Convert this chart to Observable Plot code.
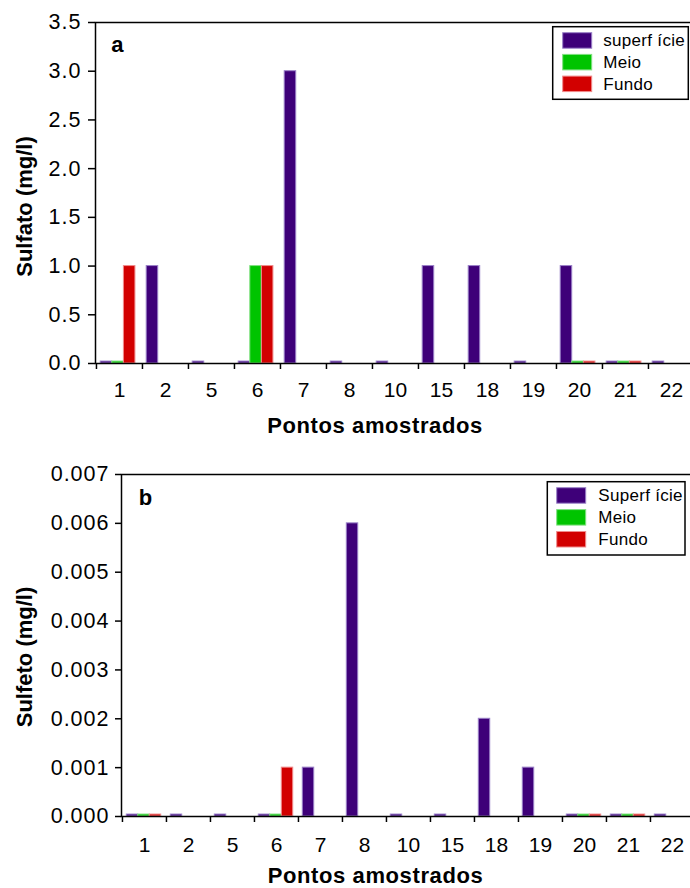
<!DOCTYPE html>
<html>
<head>
<meta charset="utf-8">
<script src="https://cdn.jsdelivr.net/npm/d3@7"></script>
<script src="https://cdn.jsdelivr.net/npm/@observablehq/plot@0.6"></script>
<style>
  html, body { margin: 0; padding: 0; background: white; overflow: hidden; }
  #wrap { position: relative; width: 690px; height: 888px; font-family: "Liberation Sans", Arial, sans-serif; }
  #wrap svg.plot { position: absolute; left: 0; }
  .legend { position: absolute; left: 0; top: 0; }
</style>
</head>
<body>
<div id="wrap"></div>
<script>
// ---------- DATA ----------
const cats = ["1","2","5","6","7","8","10","15","18","19","20","21","22"];
const seriesA = ["superf ície", "Meio", "Fundo"];
const seriesB = ["Superf ície", "Meio", "Fundo"];

// Sulfato (mg/l)  (null = no bar)
const sulfatoSuperficie = [0.02, 1, 0.02, 0.02, 3, 0.02, 0.02, 1, 1, 0.02, 1, 0.02, 0.02];
const sulfatoMeio       = [0.02, null, null, 1, null, null, null, null, null, null, 0.02, 0.02, null];
const sulfatoFundo      = [1, null, null, 1, null, null, null, null, null, null, 0.02, 0.02, null];

// Sulfeto (mg/l)
const sulfetoSuperficie = [0.00004, 0.00004, 0.00004, 0.00004, 0.001, 0.006, 0.00004, 0.00004, 0.002, 0.001, 0.00004, 0.00004, 0.00004];
const sulfetoMeio       = [0.00004, null, null, 0.00004, null, null, null, null, null, null, 0.00004, 0.00004, null];
const sulfetoFundo      = [0.00004, null, null, 0.001, null, null, null, null, null, null, 0.00004, 0.00004, null];

const ticksA = [0, 0.5, 1, 1.5, 2, 2.5, 3, 3.5];
const ticksB = [0, 0.001, 0.002, 0.003, 0.004, 0.005, 0.006, 0.007];

const fills   = ["#3e0079", "#00c400", "#d20000"];
const strokes = ["#9a80c8", "#80e080", "#f08c8c"];

const FONT = "'Liberation Sans', Arial, sans-serif";
const W = 690;

function rows(vals) {
  return cats.map((c, i) => ({cat: c, value: vals[i]})).filter(d => d.value != null);
}

function makeChart(cfg) {
  const {height, mt, mb, ml, mr, domain, ticks, fmt, data, yLabel, L, step, yLabelDx, yLabelDy, xLabelDx, tickSize, tickPad, xTickPad} = cfg;
  const bw = (W - ml - mr) / cats.length;
  const barMarks = data.map((vals, i) =>
    Plot.barY(rows(vals), {
      x: "cat", y: "value",
      fill: fills[i], stroke: strokes[i], strokeWidth: 1,
      insetLeft: L + i * step,
      insetRight: bw - L - (i + 1) * step
    })
  );
  const svg = Plot.plot({
    width: W, height,
    marginTop: mt, marginBottom: mb, marginLeft: ml, marginRight: mr,
    style: {fontFamily: FONT, fontSize: "21px", color: "black", overflow: "hidden", background: "white"},
    x: {type: "band", domain: cats, padding: 0, axis: null},
    y: {domain, axis: null},
    marks: [
      ...barMarks,
      Plot.axisY({ticks, tickFormat: fmt, tickSize, tickPadding: tickPad, fontSize: 21.5, strokeWidth: 1.5, label: null}),
      Plot.axisX({tickSize: 0, tickPadding: xTickPad, fontSize: 21, label: null}),
      Plot.axisX({tickSize: 6, tickFormat: () => "", dx: -bw / 2, strokeWidth: 1.5, label: null}),
      Plot.frame({stroke: "black", strokeWidth: 1.5}),
      Plot.text([yLabel], {frameAnchor: "left", rotate: -90, dx: yLabelDx, dy: yLabelDy,
        fontWeight: "bold", fontSize: 22, textAnchor: "middle"}),
      Plot.text(["Pontos amostrados"], {frameAnchor: "bottom", lineAnchor: "bottom", dx: xLabelDx, dy: cfg.xLabelDy,
        fontWeight: "bold", fontSize: 22, textAnchor: "middle"}),
      Plot.text([cfg.panel], {frameAnchor: "top-left", lineAnchor: "bottom", textAnchor: "start",
        dx: cfg.panelDx, dy: cfg.panelDy, fontWeight: "bold", fontSize: 22})
    ]
  });
  d3.select(svg).selectAll("[aria-label='y-axis tick label'] text").attr("letter-spacing", "1px");
  d3.select(svg).selectAll("[aria-label='text'] text").filter(function() { return this.textContent === "Pontos amostrados"; }).attr("letter-spacing", "0.6px");
  return svg;
}

const wrap = document.getElementById("wrap");

const svgA = makeChart({
  height: 445, mt: 22, mb: 82, ml: 95, mr: -4,
  domain: [0, 3.5], ticks: ticksA, fmt: d3.format(".1f"),
  data: [sulfatoSuperficie, sulfatoMeio, sulfatoFundo],
  yLabel: "Sulfato (mg/l)", L: 4.2, step: 11.6,
  yLabelDx: -70.5, yLabelDy: 13.5, xLabelDx: -20, xLabelDy: 69,
  tickSize: 7, tickPad: 7, xTickPad: 19,
  panel: "a", panelDx: 15.7, panelDy: 29.7
});
svgA.style.top = "0px";
wrap.appendChild(svgA);

const svgB = makeChart({
  height: 443, mt: 29, mb: 72, ml: 121, mr: -4,
  domain: [0, 0.007], ticks: ticksB, fmt: d3.format(".3f"),
  data: [sulfetoSuperficie, sulfetoMeio, sulfetoFundo],
  yLabel: "Sulfeto (mg/l)", L: 4.3, step: 11.5,
  yLabelDx: -96.5, yLabelDy: 11.5, xLabelDx: -32.5, xLabelDy: 66,
  tickSize: 6, tickPad: 6, xTickPad: 21,
  panel: "b", panelDx: 17.3, panelDy: 30
});
svgB.style.top = "445px";
wrap.appendChild(svgB);

// ---------- LEGENDS (inside the plot area, top-right) ----------
function legend(box, names) {
  const svg = d3.select(wrap).append("svg")
    .attr("class", "legend").attr("width", W).attr("height", 888)
    .style("pointer-events", "none");
  svg.append("rect")
    .attr("x", box.x).attr("y", box.y).attr("width", box.w).attr("height", box.h)
    .attr("fill", "white").attr("stroke", "black").attr("stroke-width", 1.5);
  names.forEach((n, i) => {
    const y = box.sy + i * box.gap;
    svg.append("rect").attr("x", box.sx).attr("y", y).attr("width", 29).attr("height", 15.5)
      .attr("fill", fills[i]).attr("stroke", strokes[i]).attr("stroke-width", 1);
    svg.append("text").attr("x", box.tx).attr("y", y + 13.5)
      .attr("font-family", FONT).attr("font-size", 17).attr("letter-spacing", "0.3px")
      .attr("fill", "black").text(n);
  });
}
legend({x: 552.7, y: 26.7, w: 135.6, h: 72.6, sx: 562.7, sy: 32.7, gap: 21.7, tx: 603.3}, seriesA);
legend({x: 547.3, y: 481.7, w: 137.7, h: 73.3, sx: 556.7, sy: 487.7, gap: 21.9, tx: 598.3}, seriesB);
</script>
</body>
</html>
